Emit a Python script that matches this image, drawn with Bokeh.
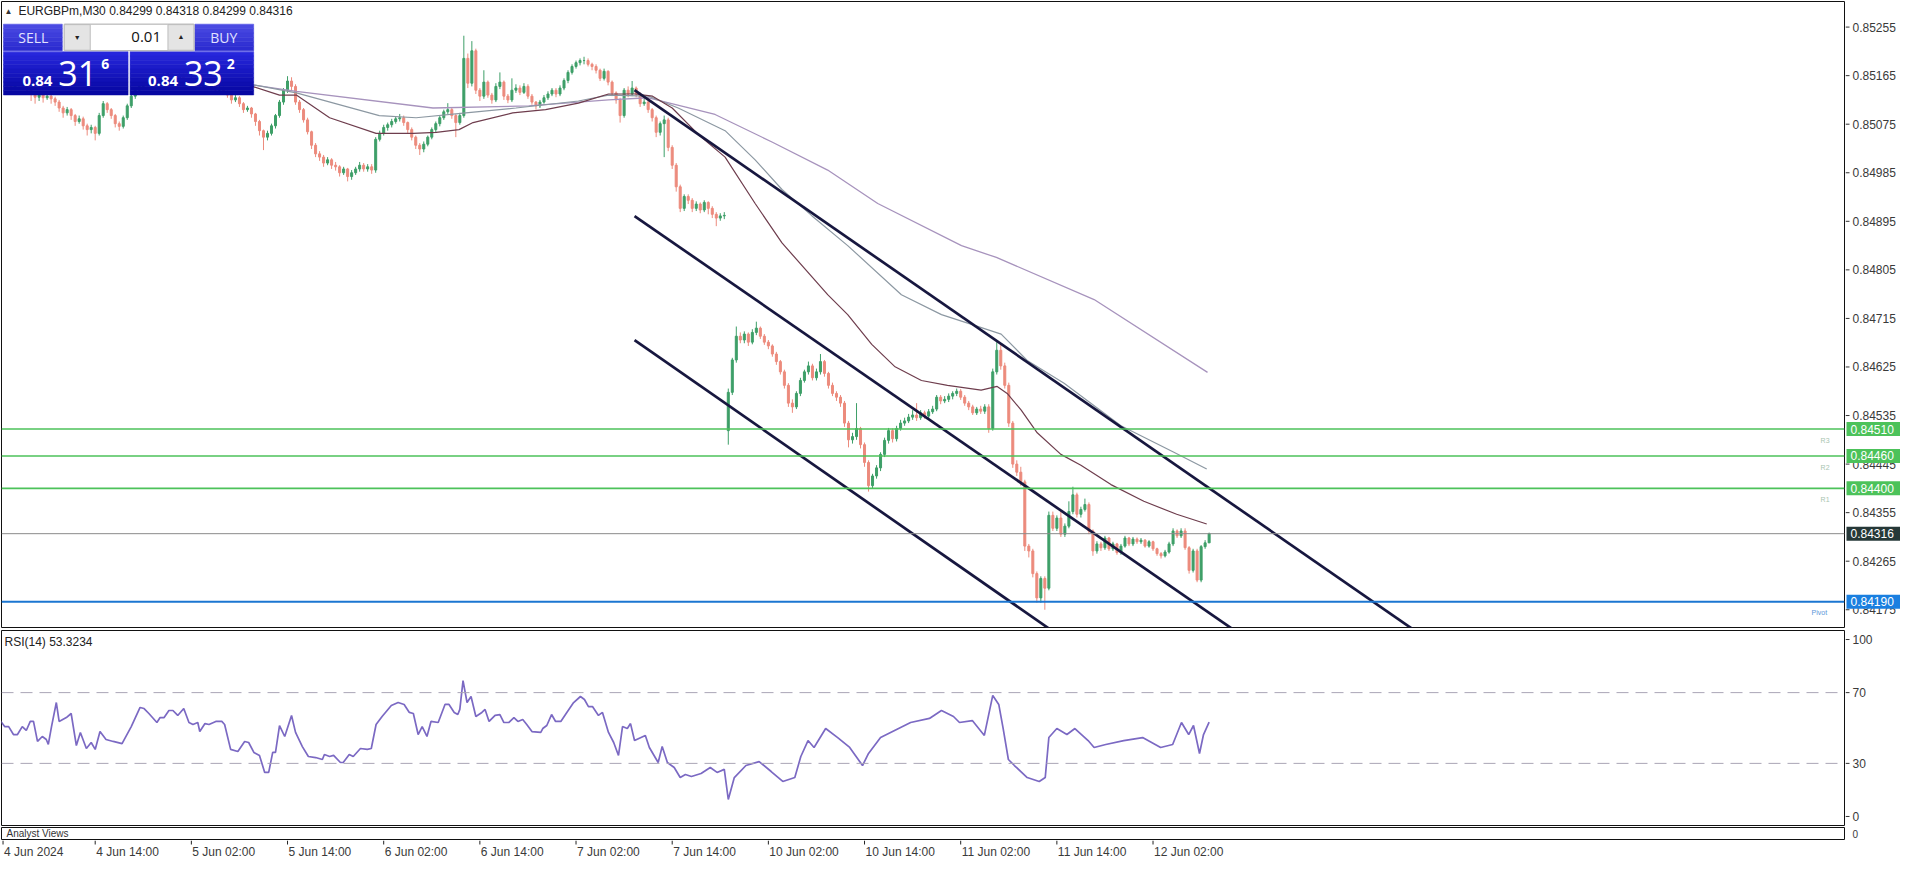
from bokeh.plotting import figure
from bokeh.layouts import column, row
from bokeh.models import Range1d, Span, ColumnDataSource
from bokeh.embed import file_html
from bokeh.resources import INLINE
from bokeh.core.properties import value

# ---------------------------------------------------------------- data
symbol = "EURGBPm,M30"
bid_price = 0.84316
ask_price = 0.84332
lot = "0.01"
rsi_name = "RSI(14)"
rsi_last = 53.3234

first_bar = -22          # bar index 0 = 4 Jun 14:00 (M30 bars)
# prices in points (1 point = 0.00001)
opens_pts = [
    85151, 85145, 85142, 85149, 85153, 85145, 85138, 85131, 85125, 85129,
    85124, 85127, 85122, 85116, 85105, 85096, 85102, 85091, 85080, 85085,
    85072, 85065, 85069, 85058, 85091, 85113, 85102, 85091, 85076, 85071,
    85087, 85109, 85127, 85138, 85145, 85153, 85149, 85160, 85164, 85156,
    85167, 85171, 85164, 85160, 85166, 85156, 85151, 85160, 85153, 85145,
    85149, 85142, 85147, 85138, 85142, 85134, 85129, 85120, 85124, 85113,
    85102, 85105, 85094, 85080, 85063, 85051, 85058, 85072, 85091, 85116,
    85138, 85155, 85145, 85116, 85102, 85083, 85061, 85036, 85020, 85014,
    85003, 85009, 84999, 84996, 84985, 84992, 84978, 84985, 84992, 84999,
    84992, 84996, 84990, 85047, 85058, 85069, 85074, 85080, 85085, 85087,
    85078, 85065, 85051, 85036, 85029, 85038, 85051, 85065, 85076, 85087,
    85098, 85102, 85091, 85078, 85091, 85197, 85151, 85211, 85138, 85127,
    85153, 85129, 85120, 85145, 85153, 85127, 85120, 85138, 85142, 85134,
    85145, 85127, 85116, 85109, 85116, 85124, 85131, 85138, 85131, 85142,
    85156, 85171, 85182, 85189, 85193, 85193, 85186, 85182, 85175, 85160,
    85173, 85153, 85133, 85120, 85091, 85138, 85131, 85142, 85131, 85113,
    85116, 85102, 85087, 85060, 85076, 85083, 85032, 84999, 84959, 84919,
    84941, 84934, 84919, 84927, 84916, 84930, 84919, 84908, 84901, 84905,
    84507, 84578, 84638, 84682, 84675, 84686, 84671, 84689, 84697, 84682,
    84671, 84664, 84649, 84635, 84616, 84591, 84558, 84551, 84576, 84600,
    84616, 84627, 84605, 84616, 84635, 84613, 84591, 84576, 84569, 84558,
    84521, 84490, 84496, 84511, 84481, 84448, 84405, 84423, 84438, 84463,
    84489, 84507, 84492, 84511, 84521, 84525, 84532, 84536, 84531, 84540,
    84534, 84542, 84547, 84569, 84562, 84565, 84571, 84576, 84580, 84569,
    84558, 84551, 84540, 84547, 84543, 84551, 84511, 84616, 84656, 84627,
    84591, 84521, 84445, 84430, 84412, 84293, 84284, 84242, 84197, 84233,
    84215, 84350, 84326, 84345, 84315, 84330, 84357, 84388, 84352, 84361,
    84370, 84321, 84284, 84297, 84290, 84308, 84288, 84297, 84281, 84293,
    84308, 84297, 84306, 84301, 84304, 84293, 84301, 84288, 84279, 84275,
    84282, 84297, 84321, 84312, 84321, 84290, 84248, 84284, 84230, 84292,
    84299]
highs_pts = [
    85156, 85150, 85153, 85158, 85156, 85149, 85142, 85135, 85134, 85133,
    85133, 85131, 85126, 85120, 85109, 85107, 85105, 85094, 85091, 85089,
    85076, 85074, 85072, 85096, 85118, 85116, 85105, 85094, 85080, 85091,
    85113, 85133, 85142, 85151, 85158, 85156, 85164, 85169, 85167, 85171,
    85176, 85175, 85167, 85171, 85169, 85160, 85164, 85164, 85156, 85153,
    85153, 85151, 85149, 85147, 85145, 85138, 85131, 85129, 85127, 85116,
    85109, 85107, 85096, 85083, 85065, 85063, 85076, 85094, 85120, 85142,
    85164, 85162, 85149, 85120, 85105, 85087, 85063, 85040, 85025, 85018,
    85014, 85012, 85005, 84999, 84996, 84994, 84990, 84996, 85005, 85003,
    85001, 85001, 85051, 85063, 85074, 85078, 85085, 85089, 85094, 85091,
    85080, 85069, 85054, 85040, 85043, 85054, 85069, 85080, 85091, 85102,
    85114, 85105, 85094, 85096, 85239, 85206, 85229, 85215, 85142, 85175,
    85156, 85133, 85151, 85171, 85156, 85131, 85160, 85149, 85147, 85151,
    85149, 85131, 85118, 85120, 85129, 85136, 85142, 85142, 85147, 85160,
    85175, 85186, 85193, 85197, 85200, 85197, 85189, 85186, 85178, 85178,
    85175, 85156, 85136, 85124, 85142, 85145, 85155, 85145, 85134, 85122,
    85118, 85105, 85091, 85080, 85091, 85087, 85036, 85003, 84963, 84945,
    84945, 84938, 84932, 84930, 84934, 84932, 84923, 84912, 84910, 84912,
    84585, 84642, 84700, 84689, 84691, 84689, 84695, 84709, 84700, 84686,
    84675, 84667, 84653, 84638, 84620, 84595, 84565, 84580, 84605, 84620,
    84635, 84631, 84622, 84649, 84638, 84616, 84596, 84580, 84573, 84562,
    84525, 84503, 84558, 84514, 84485, 84452, 84427, 84443, 84467, 84494,
    84512, 84511, 84516, 84527, 84531, 84538, 84545, 84558, 84545, 84544,
    84547, 84553, 84573, 84573, 84571, 84576, 84580, 84585, 84584, 84573,
    84562, 84555, 84551, 84553, 84556, 84556, 84622, 84671, 84667, 84633,
    84596, 84525, 84452, 84440, 84416, 84297, 84288, 84246, 84237, 84237,
    84357, 84357, 84350, 84357, 84335, 84376, 84403, 84392, 84366, 84381,
    84374, 84324, 84302, 84301, 84312, 84310, 84301, 84299, 84297, 84312,
    84310, 84310, 84309, 84308, 84306, 84304, 84303, 84290, 84282, 84286,
    84301, 84326, 84324, 84326, 84326, 84293, 84288, 84288, 84295, 84304,
    84318]
lows_pts = [
    85140, 85136, 85138, 85145, 85140, 85131, 85118, 85113, 85118, 85115,
    85120, 85113, 85109, 85098, 85087, 85091, 85083, 85072, 85076, 85065,
    85054, 85058, 85045, 85054, 85087, 85096, 85085, 85069, 85063, 85067,
    85083, 85105, 85122, 85133, 85140, 85142, 85145, 85155, 85151, 85153,
    85162, 85158, 85153, 85156, 85151, 85145, 85147, 85149, 85140, 85142,
    85138, 85138, 85133, 85134, 85131, 85124, 85113, 85116, 85107, 85096,
    85098, 85087, 85072, 85054, 85027, 85045, 85054, 85067, 85087, 85111,
    85133, 85138, 85111, 85096, 85078, 85056, 85029, 85014, 85007, 84996,
    84999, 84992, 84989, 84978, 84981, 84969, 84972, 84981, 84987, 84987,
    84987, 84983, 84985, 85043, 85054, 85063, 85069, 85076, 85080, 85072,
    85058, 85045, 85029, 85018, 85023, 85034, 85047, 85060, 85071, 85083,
    85094, 85085, 85051, 85074, 85087, 85142, 85145, 85131, 85118, 85122,
    85124, 85113, 85116, 85140, 85120, 85114, 85116, 85133, 85129, 85131,
    85122, 85111, 85102, 85105, 85113, 85120, 85127, 85125, 85127, 85138,
    85151, 85167, 85178, 85184, 85186, 85182, 85175, 85169, 85155, 85156,
    85147, 85127, 85113, 85078, 85087, 85125, 85127, 85125, 85107, 85109,
    85096, 85080, 85051, 85054, 85014, 85025, 84992, 84950, 84912, 84914,
    84927, 84912, 84914, 84910, 84912, 84908, 84901, 84886, 84896, 84899,
    84481, 84573, 84633, 84669, 84669, 84664, 84667, 84684, 84677, 84666,
    84658, 84644, 84629, 84611, 84585, 84551, 84540, 84547, 84571, 84596,
    84611, 84600, 84600, 84611, 84607, 84585, 84571, 84562, 84551, 84514,
    84476, 84483, 84490, 84474, 84440, 84394, 84399, 84418, 84432, 84458,
    84483, 84485, 84487, 84507, 84516, 84521, 84527, 84525, 84527, 84529,
    84529, 84538, 84543, 84556, 84558, 84560, 84565, 84571, 84564, 84553,
    84545, 84536, 84536, 84538, 84538, 84503, 84507, 84611, 84620, 84585,
    84514, 84438, 84423, 84405, 84284, 84272, 84235, 84188, 84188, 84175,
    84211, 84321, 84321, 84310, 84310, 84326, 84352, 84346, 84346, 84357,
    84315, 84275, 84279, 84284, 84286, 84284, 84284, 84277, 84277, 84290,
    84293, 84293, 84297, 84297, 84290, 84290, 84284, 84275, 84270, 84272,
    84279, 84293, 84308, 84308, 84286, 84242, 84244, 84226, 84226, 84288,
    84299]
closes_pts = [
    85145, 85142, 85149, 85153, 85145, 85138, 85131, 85125, 85129, 85124,
    85127, 85122, 85116, 85105, 85096, 85102, 85091, 85080, 85085, 85072,
    85065, 85069, 85058, 85091, 85113, 85102, 85091, 85076, 85071, 85087,
    85109, 85127, 85138, 85145, 85153, 85149, 85160, 85164, 85156, 85167,
    85171, 85164, 85160, 85166, 85156, 85151, 85160, 85153, 85145, 85149,
    85142, 85147, 85138, 85142, 85134, 85129, 85120, 85124, 85113, 85102,
    85105, 85094, 85080, 85063, 85051, 85058, 85072, 85091, 85116, 85138,
    85155, 85145, 85116, 85102, 85083, 85061, 85036, 85020, 85014, 85003,
    85009, 84999, 84996, 84985, 84992, 84978, 84985, 84992, 84999, 84992,
    84996, 84990, 85047, 85058, 85069, 85074, 85080, 85085, 85087, 85078,
    85065, 85051, 85036, 85029, 85038, 85051, 85065, 85076, 85087, 85098,
    85102, 85091, 85078, 85091, 85197, 85151, 85211, 85138, 85127, 85153,
    85129, 85120, 85145, 85153, 85127, 85120, 85138, 85142, 85134, 85145,
    85127, 85116, 85109, 85116, 85124, 85131, 85138, 85131, 85142, 85156,
    85171, 85182, 85189, 85193, 85193, 85186, 85182, 85175, 85160, 85173,
    85153, 85133, 85120, 85091, 85138, 85131, 85142, 85131, 85113, 85116,
    85102, 85087, 85060, 85076, 85083, 85032, 84999, 84959, 84919, 84941,
    84934, 84919, 84927, 84916, 84930, 84919, 84908, 84901, 84905, 84906,
    84578, 84638, 84682, 84675, 84686, 84671, 84689, 84697, 84682, 84671,
    84664, 84649, 84635, 84616, 84591, 84558, 84551, 84576, 84600, 84616,
    84627, 84605, 84616, 84635, 84613, 84591, 84576, 84569, 84558, 84521,
    84490, 84496, 84511, 84481, 84448, 84405, 84423, 84438, 84463, 84489,
    84507, 84492, 84511, 84521, 84525, 84532, 84536, 84531, 84540, 84534,
    84542, 84547, 84569, 84562, 84565, 84571, 84576, 84580, 84569, 84558,
    84551, 84540, 84547, 84543, 84551, 84511, 84616, 84656, 84627, 84591,
    84521, 84445, 84430, 84412, 84293, 84284, 84242, 84197, 84233, 84215,
    84350, 84326, 84345, 84315, 84330, 84357, 84388, 84352, 84361, 84370,
    84321, 84284, 84297, 84290, 84308, 84288, 84297, 84281, 84293, 84308,
    84297, 84306, 84301, 84304, 84293, 84301, 84288, 84279, 84275, 84282,
    84297, 84321, 84312, 84321, 84290, 84248, 84284, 84230, 84292, 84299,
    84316]

# moving averages (bar index, price in points)
ma_fast_x = [38, 46, 50.2, 58.5, 70.1, 79.4, 85.1, 90.8, 94.3, 104.2, 112.4, 120.6,
             128.1, 134.8, 139.1, 144, 150.5, 157.2, 164.7, 171.4, 182.8, 187.8,
             193.8, 199.5, 206.2, 212.7, 221.1, 225.1, 227.6, 231.1, 235.1, 241,
             246, 253.5, 261.7, 269.9, 277.4]
ma_fast_v = [85148, 85129, 85129, 85087, 85058, 85058, 85060, 85065, 85078, 85096,
             85102, 85114, 85131, 85131, 85127, 85105, 85056, 85014, 84928, 84855,
             84759, 84722, 84667, 84626, 84600, 84591, 84582, 84589, 84576, 84545,
             84503, 84463, 84443, 84407, 84376, 84352, 84334]
ma_mid_x = [38, 50.2, 70.9, 80.1, 92.5, 105, 120.6, 128.1, 138.1, 145.5, 157.2,
            164.7, 171.4, 178.9, 187.8, 201.2, 211.2, 218.7, 226.1, 232.6, 241.8,
            256, 269.2, 277.4]
ma_mid_v = [85150, 85133, 85091, 85087, 85096, 85105, 85118, 85129, 85127, 85105,
            85063, 85009, 84954, 84905, 84850, 84759, 84722, 84704, 84686, 84637,
            84595, 84516, 84467, 84436]
ma_slow_x = [38, 50.2, 84.3, 108.2, 128.1, 138.1, 154.7, 168.9, 182.8, 195.3,
             216.2, 224.9, 249.3, 277.6]
ma_slow_v = [85149, 85136, 85105, 85109, 85120, 85124, 85093, 85042, 84990, 84928,
             84850, 84828, 84750, 84615]

# trend channel (bar index / price of both ends)
chan_x0 = [134.6, 134.6, 134.6]
chan_p0 = [0.851382, 0.849047, 0.846748]
chan_x1 = [336.4, 291.5, 245.8]
chan_p1 = [0.84100, 0.84100, 0.84100]

# pivot levels
level_prices = [0.84510, 0.84460, 0.84400]
level_names = ["R3", "R2", "R1"]
pivot_price = 0.84190

# RSI(14) (bar index, value)
rsi_x = [-23.9, -22.6, -21.6, -20.4, -19.4, -18.2, -17.2, -16.2, -15.4, -14.4, -13.2,
         -12.2, -11.7, -10.9, -9.7, -9.0, -7.2, -6.0, -4.7, -3.7, -2.2, -1.0, 0, 1.2,
         2.7, 4.5, 6.7, 9.0, 11.2, 12.2, 13.4, 15.4, 16.2, 17.2, 18.4, 19.4, 20.6, 22.1,
         23.4, 24.4, 25.6, 26.1, 27.4, 28.4, 30.1, 31.6, 32.3, 33.8, 35.6, 37.3, 38.3,
         39.6, 41.0, 42.3, 43.3, 44.3, 45.0, 46.0, 47.3, 49.0, 50.0, 51.7, 53.2, 55.0,
         56.7, 57.2, 58.5, 59.5, 61.2, 61.9, 63.4, 64.4, 66.2, 67.9, 68.9, 70.1, 71.6,
         73.9, 75.6, 77.1, 78.4, 79.4, 80.6, 81.6, 82.8, 83.8, 85.6, 87.3, 88.3, 89.6,
         90.5, 91.0, 91.8, 92.8, 93.8, 95.0, 96.5, 97.3, 98.3, 99.8, 101.0, 102.0,
         103.2, 104.5, 105.5, 106.7, 107.7, 109.0, 111.2, 111.7, 112.7, 113.9, 114.9,
         116.2, 117.7, 119.4, 121.1, 122.1, 123.1, 124.1, 125.6, 126.6, 128.1, 129.4,
         130.6, 131.6, 132.8, 133.6, 134.6, 137.3, 138.3, 140.5, 141.5, 142.8, 144.5,
         146.0, 147.3, 148.8, 151.2, 153.5, 155.2, 157.0, 158, 159.5, 162.4, 165.7,
         168.7, 171.6, 174.6, 176.1, 177.9, 179.4, 182.3, 185.3, 188.3, 191.5, 193.0,
         196.0, 200.5, 203.5, 208.2, 211.2, 214.2, 215.7, 218.9, 221.9, 224, 225.5,
         226.6, 227.9, 229.4, 232.6, 235.6, 237.1, 238, 240, 242.5, 244.5, 247.8,
         249.3, 252.2, 256.7, 261.4, 265.9, 268.9, 271.1, 272.9, 274.1, 275.6, 276.6,
         278]
rsi_v = [54.8, 50.8, 50.8, 46.3, 46.3, 50.8, 48.6, 53.7, 53.7, 42.4, 45.2, 43.5, 40.7,
         50.8, 64.4, 53.7, 55.9, 58.2, 40.1, 47.5, 38.4, 41.8, 37.9, 48.0, 43.5, 42.4,
         41.2, 50.8, 61.6, 61.0, 58.2, 53.1, 55.9, 55.9, 59.9, 59.9, 57.1, 61.0, 53.1,
         52.0, 53.1, 48.0, 52.5, 52.0, 53.7, 53.7, 52.0, 37.9, 36.7, 42.4, 41.8, 36.2,
         34.5, 24.9, 24.9, 36.2, 36.2, 51.4, 45.2, 57.1, 47.5, 39.5, 33.9, 33.3, 32.2,
         35.0, 33.9, 34.5, 30.5, 30.5, 35.0, 33.9, 38.4, 37.9, 38.4, 52.0, 56.5, 62.7,
         64.4, 63.3, 58.8, 58.2, 46.3, 50.8, 45.2, 53.7, 53.1, 63.3, 63.3, 58.8, 57.6,
         60.5, 76.8, 64.4, 67.8, 56.5, 58.8, 60.5, 53.7, 57.1, 57.6, 53.1, 53.1, 55.9,
         53.7, 54.8, 52.0, 48.0, 47.5, 49.7, 51.4, 57.6, 53.7, 53.7, 58.8, 64.4, 67.8,
         66.1, 62.1, 62.1, 57.1, 58.8, 47.5, 41.8, 34.5, 50.8, 49.7, 52.5, 42.9, 45.8,
         39.0, 30.5, 39.5, 30.5, 27.7, 22.0, 23.7, 22.6, 24.3, 27.7, 24.9, 26.6, 9.6,
         22.0, 28.8, 31.0, 25.4, 19.8, 22.0, 33.9, 42.9, 39.0, 49.7, 44.6, 39.0, 28.8,
         35.6, 44.6, 49.7, 53.1, 55.4, 59.9, 56.5, 53.1, 54.2, 45.8, 68.4, 63.3, 49.7,
         32.2, 28.8, 22.0, 19.8, 22.0, 44.6, 49.7, 46.3, 49.7, 42.9, 39.0, 40.7, 42.9,
         44.6, 39.0, 40.7, 53.1, 46.3, 51.4, 35.6, 46.3, 53.3234]

price_ticks = [0.85255, 0.85165, 0.85075, 0.84985, 0.84895, 0.84805, 0.84715,
               0.84625, 0.84535, 0.84445, 0.84355, 0.84265, 0.84175]
rsi_ticks = [0, 30, 70, 100]
time_ticks = [-23, 0, 24, 48, 72, 96, 120, 144, 168, 192, 216, 240, 264]
time_labels = ["4 Jun 2024", "4 Jun 14:00", "5 Jun 02:00", "5 Jun 14:00", "6 Jun 02:00",
               "6 Jun 14:00", "7 Jun 02:00", "7 Jun 14:00", "10 Jun 02:00",
               "10 Jun 14:00", "11 Jun 02:00", "11 Jun 14:00", "12 Jun 02:00"]

# ---------------------------------------------------------------- helpers
n = len(closes_pts)
assert len(opens_pts) == n and len(highs_pts) == n and len(lows_pts) == n
assert len(rsi_x) == len(rsi_v)
bars = list(range(first_bar, first_bar + n))

def X(px):            # reference pixel -> bar index
    return (px - 98.0) / 4.02

def Y(py):            # reference pixel -> price
    return (85306.08 - 1.8244 * py) / 1e5

FONT = "Liberation Sans"
UI = "Open Sans"
AX_COL = "#3a3a3a"
FW = 1843            # frame width of the chart panes
RB = 55              # width of the price scale column
H_MAIN, H_RSI, H_AN, H_TIME = 626, 195, 12, 18

xr = Range1d(X(4), X(1853))

def pane(h, yr, top, bottom, outline=True):
    f = figure(frame_width=FW, frame_height=h, x_range=xr, y_range=yr,
               output_backend="svg", toolbar_location=None,
               x_axis_location=None, y_axis_location=None,
               min_border_left=1, min_border_right=1, min_border_top=top,
               min_border_bottom=bottom, background_fill_color="white",
               border_fill_color="white",
               outline_line_color="#111111" if outline else None, outline_line_width=1)
    f.grid.visible = False
    return f

def scale(h, yr, top, bottom):
    f = figure(frame_width=RB, frame_height=h, x_range=Range1d(0, RB), y_range=yr,
               output_backend="svg", toolbar_location=None,
               x_axis_location=None, y_axis_location=None,
               min_border_left=0, min_border_right=0, min_border_top=top,
               min_border_bottom=bottom, background_fill_color="white",
               border_fill_color="white", outline_line_color=None)
    f.grid.visible = False
    return f

def tick_labels(f, vals, texts, size="12px"):
    f.segment(x0=[0] * len(vals), y0=vals, x1=[4] * len(vals), y1=vals,
              line_color="#333333", line_width=1)
    f.text(x=[7] * len(vals), y=vals, text=texts, text_font=value(FONT),
           text_font_size=size, text_color=AX_COL, text_align="left",
           text_baseline="middle")

# ---------------------------------------------------------------- main pane
p = pane(H_MAIN, Range1d(Y(638), Y(2)), 1, 3)

bull, bear = "#3e9f68", "#ec8b7d"
src = ColumnDataSource(dict(
    x=bars,
    o=[v / 1e5 for v in opens_pts], h=[v / 1e5 for v in highs_pts],
    l=[v / 1e5 for v in lows_pts], c=[v / 1e5 for v in closes_pts],
    top=[max(a, b) / 1e5 for a, b in zip(opens_pts, closes_pts)],
    bot=[min(a, b) / 1e5 for a, b in zip(opens_pts, closes_pts)],
    col=[bull if c >= o else bear for o, c in zip(opens_pts, closes_pts)]))
p.segment(x0="x", y0="l", x1="x", y1="h", line_color="col", line_width=1, source=src)
p.vbar(x="x", width=0.5, top="top", bottom="bot", fill_color="col",
       line_color="col", line_width=1, source=src)

p.line(ma_slow_x, [v / 1e5 for v in ma_slow_v], line_color="#a793bd", line_width=1.3)
p.line(ma_mid_x, [v / 1e5 for v in ma_mid_v], line_color="#8c98a2", line_width=1.2)
p.line(ma_fast_x, [v / 1e5 for v in ma_fast_v], line_color="#6e3d4d", line_width=1.2)

p.segment(x0=chan_x0, y0=chan_p0, x1=chan_x1, y1=chan_p1,
          line_color="#17173f", line_width=2.7)

GREEN = "#4cc25a"
for pr in level_prices:
    p.add_layout(Span(location=pr, dimension="width", line_color=GREEN, line_width=1.6))
p.add_layout(Span(location=bid_price, dimension="width", line_color="#8a8a8a", line_width=1))
p.add_layout(Span(location=pivot_price, dimension="width", line_color="#1b76d1", line_width=2))

for nm, py in zip(level_names, [448, 475, 508]):
    p.text(x=[X(1829)], y=[Y(py)], text=[nm], text_font=value(FONT), text_font_size="7px",
           text_color="#a8c4b0", text_align="left", text_baseline="middle")
p.text(x=[X(1820)], y=[Y(623)], text=["Pivot"], text_font=value(FONT), text_font_size="7px",
       text_color="#5b96d8", text_align="left", text_baseline="middle")

# header
o_l, h_l, l_l, c_l = opens_pts[-1], highs_pts[-1], lows_pts[-1], closes_pts[-1]
p.text(x=[X(7)], y=[Y(12)], text=["\u25b2"], text_font=value(FONT), text_font_size="8px",
       text_color="#333333", text_align="left", text_baseline="middle")
p.text(x=[X(21)], y=[Y(12)],
       text=[f"{symbol}  {o_l/1e5:.5f} {h_l/1e5:.5f} {l_l/1e5:.5f} {c_l/1e5:.5f}"],
       text_font=value(FONT), text_font_size="12px", text_color="#222222",
       text_align="left", text_baseline="middle")

# one-click trading panel
def lerp(c0, c1, t):
    a = [int(c0[i:i + 2], 16) for i in (1, 3, 5)]
    b = [int(c1[i:i + 2], 16) for i in (1, 3, 5)]
    return "#" + "".join(f"{round(a[k] + (b[k] - a[k]) * t):02x}" for k in range(3))

def grad_box(x0, x1, y0, y1, c0, c1, steps):
    hgt = (y1 - y0) / steps
    lefts, rights, tops, bots, cols = [], [], [], [], []
    for k in range(steps):
        lefts.append(X(x0)); rights.append(X(x1))
        tops.append(Y(y0 + k * hgt)); bots.append(Y(y0 + (k + 1) * hgt))
        cols.append(lerp(c0, c1, k / max(steps - 1, 1)))
    p.quad(left=lefts, right=rights, top=tops, bottom=bots, fill_color=cols,
           line_color=cols, line_width=0.5)

grad_box(6, 65, 25, 52, "#4a4ae2", "#2c2cd0", 6)
grad_box(198, 257, 25, 52, "#4a4ae2", "#2c2cd0", 6)
grad_box(6, 131, 53, 97, "#2626dc", "#0707a2", 10)
grad_box(133, 257, 53, 97, "#2626dc", "#0707a2", 10)
p.quad(left=[X(6), X(198)], right=[X(65), X(257)], top=[Y(52.5)] * 2, bottom=[Y(53.5)] * 2,
       fill_color="#6a6ae8", line_color=None)
p.quad(left=[X(67)], right=[X(197)], top=[Y(25)], bottom=[Y(52)], fill_color="white",
       line_color="#a8a8a8", line_width=1)
p.quad(left=[X(67), X(171)], right=[X(93), X(197)], top=[Y(25.5)] * 2, bottom=[Y(51.5)] * 2,
       fill_color="#e4e4e4", line_color="#bdbdbd", line_width=1)
p.text(x=[X(80), X(184)], y=[Y(39), Y(38)], text=["\u25bc", "\u25b2"], text_font=value(FONT),
       text_font_size="7px", text_color="#222222", text_align="center", text_baseline="middle")
p.text(x=[X(164)], y=[Y(38.5)], text=[lot], text_font=value(UI), text_font_size="15px",
       text_color="#111111", text_align="right", text_baseline="middle")
p.text(x=[X(36), X(227)], y=[Y(38.5), Y(38.5)], text=["SELL", "BUY"], text_font=value(UI),
       text_font_size="14px", text_color="#e2e2ff", text_align="center", text_baseline="middle")

for price, xa, xb, xc in [(bid_price, 25, 61, 104), (ask_price, 151, 187, 230)]:
    s = f"{price:.5f}"
    p.text(x=[X(xa)], y=[Y(83)], text=[s[:4]], text_font=value(UI), text_font_size="15px",
           text_font_style="bold", text_color="white", text_align="left",
           text_baseline="middle")
    p.text(x=[X(xb)], y=[Y(75)], text=[s[4:6]], text_font=value(UI), text_font_size="34px",
           text_color="white", text_align="left", text_baseline="middle")
    p.text(x=[X(xc)], y=[Y(65)], text=[s[6:]], text_font=value(UI), text_font_size="14px",
           text_font_style="bold", text_color="white", text_align="left",
           text_baseline="middle")

# price scale column
ps = scale(H_MAIN, p.y_range, 1, 3)
tick_labels(ps, price_ticks, [f"{v:.5f}" for v in price_ticks])
ppx = (p.y_range.end - p.y_range.start) / H_MAIN          # price per screen pixel
tags = [(level_prices[0], GREEN), (level_prices[1], GREEN), (level_prices[2], GREEN),
        (bid_price, "#263838"), (pivot_price, "#1a7fe0")]
ps.quad(left=[1] * len(tags), right=[RB] * len(tags),
        top=[v + 7 * ppx for v, _ in tags], bottom=[v - 7 * ppx for v, _ in tags],
        fill_color=[c for _, c in tags], line_color=None)
ps.text(x=[5] * len(tags), y=[v for v, _ in tags], text=[f"{v:.5f}" for v, _ in tags],
        text_font=value(FONT), text_font_size="12px", text_color="white",
        text_align="left", text_baseline="middle")

# ---------------------------------------------------------------- RSI pane
r = pane(H_RSI, Range1d(-5.1, 105.1), 0, 2)
for lv in (30, 70):
    r.add_layout(Span(location=lv, dimension="width", line_color="#aaa6b6",
                      line_width=1, line_dash="12 7"))
r.line(rsi_x, rsi_v, line_color="#7b69c3", line_width=1.7)
r.text(x=[X(7)], y=[98.5], text=[f"{rsi_name} {rsi_last:.4f}"], text_font=value(FONT),
       text_font_size="12px", text_color="#222222", text_align="left", text_baseline="middle")
rs = scale(H_RSI, r.y_range, 0, 2)
tick_labels(rs, rsi_ticks, [str(v) for v in rsi_ticks])

# ---------------------------------------------------------------- analyst pane
a = pane(H_AN, Range1d(0, 1), 0, 1)
a.text(x=[X(9)], y=[0.5], text=["Analyst Views"], text_font=value(FONT),
       text_font_size="10px", text_color="#333333", text_align="left",
       text_baseline="middle")
ans = scale(H_AN, a.y_range, 0, 1)
ans.text(x=[7], y=[0.5], text=["0"], text_font=value(FONT), text_font_size="10px",
         text_color=AX_COL, text_align="left", text_baseline="middle")

# ---------------------------------------------------------------- time scale
t = pane(H_TIME, Range1d(H_TIME, 0), 0, 0, outline=False)
t.segment(x0=time_ticks, y0=[0] * len(time_ticks), x1=time_ticks, y1=[4] * len(time_ticks),
          line_color="#222222", line_width=1)
t.text(x=time_ticks, y=[4] * len(time_ticks), text=time_labels, x_offset=1,
       text_font=value(FONT), text_font_size="12px", text_color=AX_COL,
       text_align="left", text_baseline="top")
ts = scale(H_TIME, Range1d(0, 1), 0, 0)

layout = row(column(p, r, a, t), column(ps, rs, ans, ts))
open("out.html", "w").write(file_html(layout, INLINE, "EURGBPm,M30"))
